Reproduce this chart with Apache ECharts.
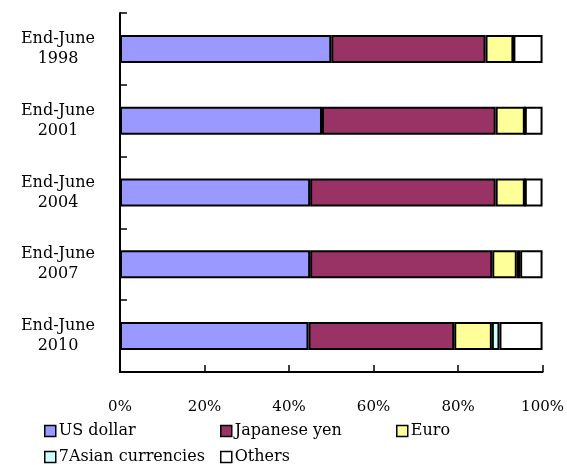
<!DOCTYPE html>
<html><head><meta charset="utf-8">
<script src="https://cdn.jsdelivr.net/npm/echarts@6/dist/echarts.min.js"></script>
<style>html,body{margin:0;padding:0;background:#fff}#c{width:567px;height:465px}</style>
</head><body><div id="c"></div>
<script>
var categories = ['End-June\n1998','End-June\n2001','End-June\n2004','End-June\n2007','End-June\n2010'];
var usDollar = [50.0, 47.8, 45.0, 45.0, 44.6];
var japaneseYen = [36.5, 41.1, 43.9, 43.1, 34.5];
var euro = [6.6, 6.9, 6.9, 5.8, 8.9];
var asian7 = [0, 0, 0, 0.8, 1.8];
var others = [6.9, 4.2, 4.2, 5.3, 10.2];
var seriesNames = ['US dollar','Japanese yen','Euro','7Asian currencies','Others'];
var colors = ['#9999FF','#993366','#FFFF99','#CCFFFF','#FFFFFF'];
var xTicks = [0,20,40,60,80,100];

var FONT = 'DejaVu Serif';
var dataSets = [usDollar, japaneseYen, euro, asian7, others];
var legendPos = [[44,423],[220,423],[396,423],[44,449],[220,449]];

var chart = echarts.init(document.getElementById('c'));
chart.setOption({
  animation: false,
  backgroundColor: '#fff',
  grid: {left: 120, right: 22, top: 13, bottom: 93},
  legend: seriesNames.map(function(n,i){
    return {
      data: [n], left: legendPos[i][0], top: legendPos[i][1],
      icon: 'rect', itemWidth: 11, itemHeight: 11, itemGap: 0,
      padding: 0,
      itemStyle: {borderColor: '#000', borderWidth: 1.5},
      textStyle: {fontFamily: FONT, fontSize: 16, color: '#000', padding: [0,0,0,-2]}
    };
  }),
  xAxis: {
    type: 'value', min: xTicks[0], max: xTicks[xTicks.length-1], interval: 20,
    axisLine: {show: true, lineStyle: {color: '#000', width: 2}},
    axisTick: {show: true, inside: true, length: 7, lineStyle: {color: '#000', width: 1.5}},
    splitLine: {show: false},
    axisLabel: {formatter: '{value}%', margin: 28, fontFamily: FONT, fontSize: 15, color: '#000'}
  },
  yAxis: {
    type: 'category', data: categories, inverse: true,
    axisLine: {show: true, lineStyle: {color: '#000', width: 2}},
    axisTick: {show: true, inside: true, length: 7, lineStyle: {color: '#000', width: 1.5}},
    axisLabel: {align: 'center', margin: 62, fontFamily: FONT, fontSize: 16, color: '#000', lineHeight: 20}
  },
  series: dataSets.map(function(d,i){
    return {
      name: seriesNames[i], type: 'bar', stack: 'total', data: d,
      barWidth: 28,
      itemStyle: {color: colors[i], borderColor: '#000', borderWidth: 2}
    };
  })
});
</script></body></html>
